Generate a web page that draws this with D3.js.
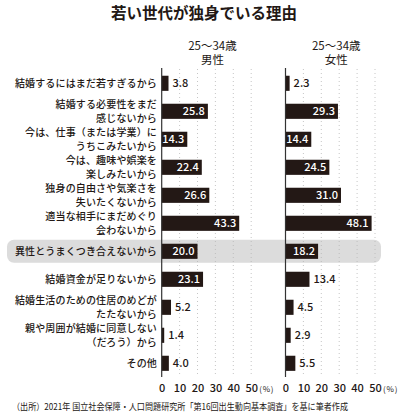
<!DOCTYPE html>
<html><head><meta charset="utf-8">
<script src="https://cdn.jsdelivr.net/npm/d3@7"></script>
<style>body{margin:0;background:#fff}svg{display:block}</style>
</head><body>
<svg id="c" width="400" height="416"></svg>
<script>
const categories = [
  ["結婚するにはまだ若すぎるから"],
  ["結婚する必要性をまだ","感じないから"],
  ["今は、仕事（または学業）に","うちこみたいから"],
  ["今は、趣味や娯楽を","楽しみたいから"],
  ["独身の自由さや気楽さを","失いたくないから"],
  ["適当な相手にまだめぐり","会わないから"],
  ["異性とうまくつき合えないから"],
  ["結婚資金が足りないから"],
  ["結婚生活のための住居のめどが","たたないから"],
  ["親や周囲が結婚に同意しない","（だろう）から"],
  ["その他"]
];
const male   = [3.8, 25.8, 14.3, 22.4, 26.6, 43.3, 20.0, 23.1, 5.2, 1.4, 4.0];
const female = [2.3, 29.3, 14.4, 24.5, 31.0, 48.1, 18.2, 13.4, 4.5, 2.9, 5.5];
const panelTitles = [["25～34歳","男性"],["25～34歳","女性"]];
const tickValues = [0,10,20,30,40,50];
const highlightIndex = 6;
const title = "若い世代が独身でいる理由";
const source = "（出所）2021年 国立社会保障・人口問題研究所「第16回出生動向基本調査」を基に筆者作成";

const svg = d3.select("#c");
const ink = "#231815";
const jp = "'Noto Sans CJK JP','Noto Sans',sans-serif";

const y = d3.scaleBand().domain(d3.range(categories.length)).range([69.3, 377.3]).paddingInner(0.46).paddingOuter(0.23);
const panels = [
  {data: male,   x: d3.scaleLinear().domain([0,50]).range([161.7, 251.2]), head: panelTitles[0]},
  {data: female, x: d3.scaleLinear().domain([0,50]).range([285.5, 375]), head: panelTitles[1]},
];

// title
svg.append("text").attr("x",204).attr("y",19).attr("text-anchor","middle")
  .attr("font-family",jp).attr("font-weight",700).attr("font-size",15.5).attr("fill",ink).text(title);

// highlight band
svg.append("rect").attr("x",7).attr("width",374)
  .attr("y", y(highlightIndex) + y.bandwidth()/2 - 11.5).attr("height",23)
  .attr("rx",7).attr("fill","#dcdcdc");

// category labels
categories.forEach((lines,i)=>{
  const cy = y(i) + y.bandwidth()/2;
  const t = svg.append("text").attr("x",157).attr("text-anchor","end")
    .attr("font-family",jp).attr("font-weight",500).attr("font-size",10).attr("fill",ink)
    .attr("letter-spacing",0.15);
  lines.forEach((l,k)=>{
    const off = lines.length===1 ? 0 : (k===0 ? -6.6 : 6.6);
    t.append("tspan").attr("x",157).attr("y",cy+off).attr("dy","0.36em").text(l);
  });
});

panels.forEach(p=>{
  const g = svg.append("g");
  const x = p.x;
  // grid
  g.selectAll("line.grid").data(tickValues.slice(1)).join("line")
    .attr("x1",d=>x(d)).attr("x2",d=>x(d)).attr("y1",69).attr("y2",377)
    .attr("stroke","#b8b8b8").attr("stroke-width",0.8).attr("stroke-dasharray","1,3");
  // header
  const hx = (x(0)+x(50))/2 + 6;
  g.append("text").attr("x",hx).attr("y",49.5).attr("text-anchor","middle")
    .attr("font-family",jp).attr("font-size",11.5).attr("fill",ink).text(p.head[0]);
  g.append("text").attr("x",hx).attr("y",64).attr("text-anchor","middle")
    .attr("font-family",jp).attr("font-size",11.5).attr("fill",ink).text(p.head[1]);
  // bars
  g.selectAll("rect.bar").data(p.data).join("rect")
    .attr("x",x(0)).attr("y",(d,i)=>y(i)).attr("height",y.bandwidth())
    .attr("width",d=>x(d)-x(0)).attr("fill",ink);
  // axis line
  g.append("line").attr("x1",x(0)).attr("x2",x(0)).attr("y1",68).attr("y2",377)
    .attr("stroke","#333").attr("stroke-width",1.2);
  // value labels
  g.selectAll("text.val").data(p.data).join("text")
    .attr("x",d=> d>=14 ? x(d)-3 : x(d)+4)
    .attr("text-anchor",d=> d>=14 ? "end" : "start")
    .attr("y",(d,i)=>y(i)+y.bandwidth()/2).attr("dy","0.36em")
    .attr("font-family",jp).attr("font-weight",500).attr("font-size",11)
    .attr("fill",d=> d>=14 ? "#fff" : ink).text(d=>d.toFixed(1));
  // axis ticks
  const ax = d3.axisBottom(x).tickValues(tickValues).tickSize(0).tickPadding(0).tickFormat(d3.format("d"));
  const ag = g.append("g").attr("transform","translate(0,384)").call(ax);
  ag.select(".domain").remove();
  ag.selectAll("text").attr("font-family",jp).attr("font-weight",500).attr("font-size",11).attr("fill",ink);
  g.append("text").attr("x",x(50)+8).attr("y",391.5).attr("font-family",jp).attr("font-size",8)
    .attr("fill",ink).attr("letter-spacing",0.8).text("(%)");
});

svg.append("text").attr("x",12).attr("y",410).attr("font-family",jp).attr("font-size",9)
  .attr("fill",ink).attr("textLength",336).attr("lengthAdjust","spacingAndGlyphs").text(source);
</script>
</body></html>
